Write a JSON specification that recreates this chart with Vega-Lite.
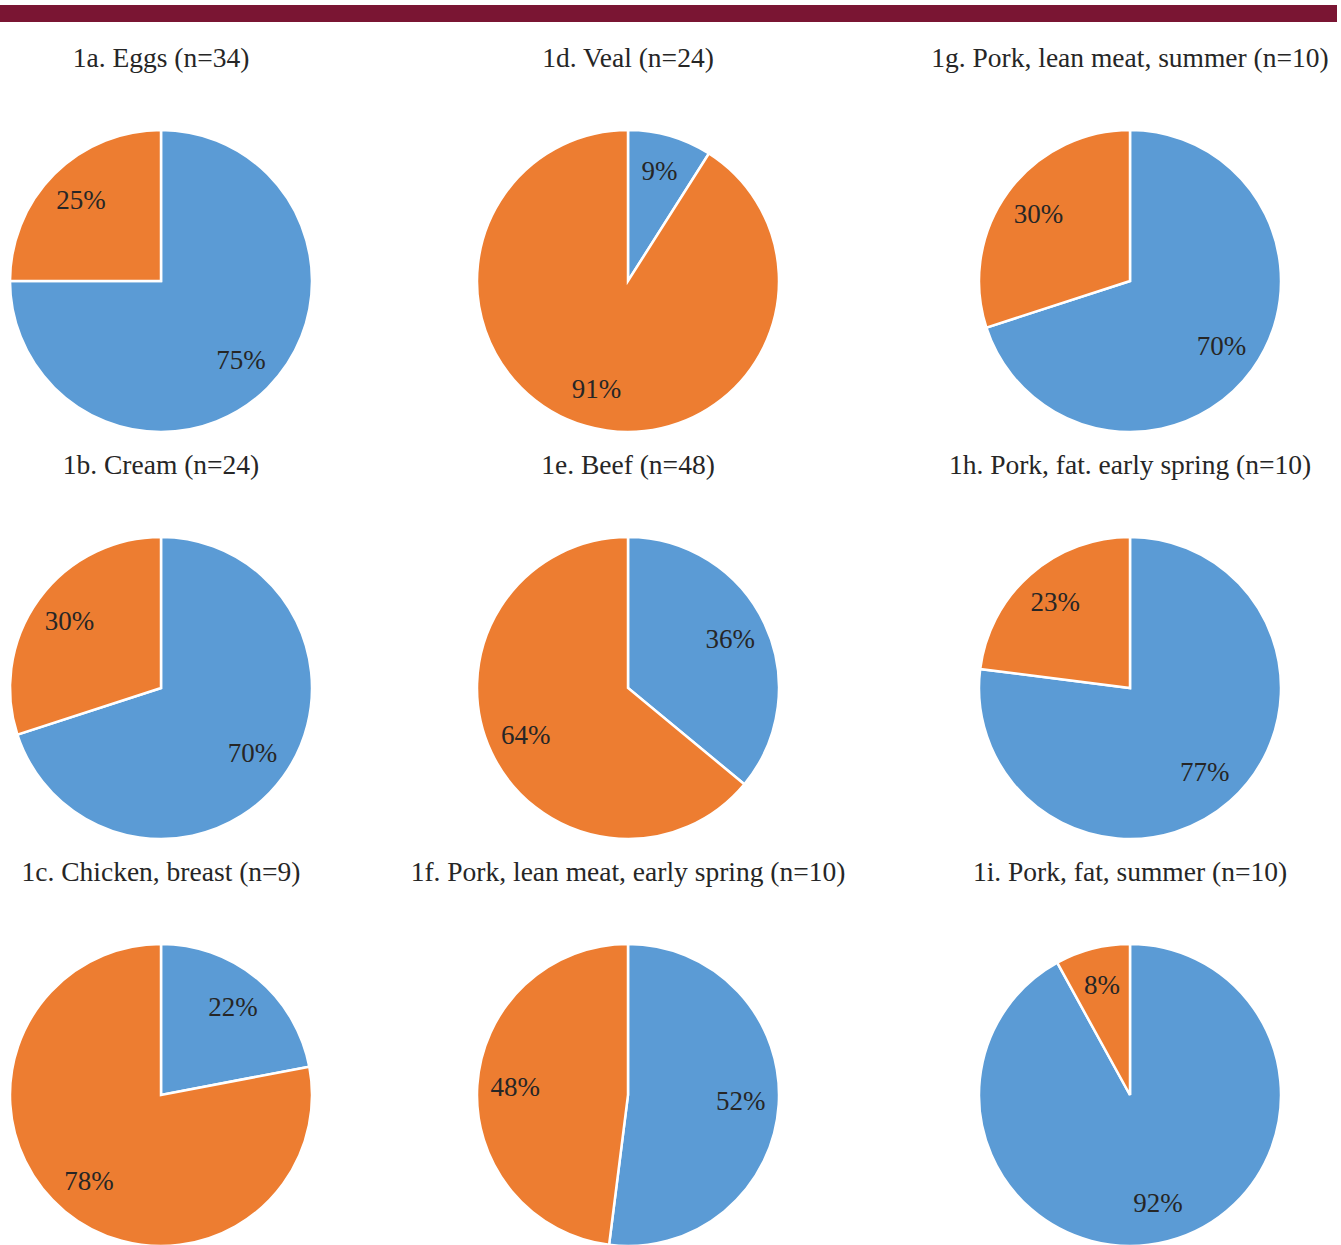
{
  "$schema": "https://vega.github.io/schema/vega-lite/v6.json",
  "padding": {"top": 5, "left": 0, "right": 0, "bottom": 0},
  "background": "white",
  "config": {
    "view": {"stroke": null},
    "title": {"font": "Liberation Serif", "fontSize": 27.5, "fontWeight": "normal", "color": "#262626", "offset": 53, "baseline": "alphabetic", "anchor": "middle"}
  },
  "datasets": {
    "pies": [
      {"chart": "1a", "part": "A", "share": 0.75}, {"chart": "1a", "part": "B", "share": 0.25},
      {"chart": "1b", "part": "A", "share": 0.70}, {"chart": "1b", "part": "B", "share": 0.30},
      {"chart": "1c", "part": "A", "share": 0.22}, {"chart": "1c", "part": "B", "share": 0.78},
      {"chart": "1d", "part": "A", "share": 0.09}, {"chart": "1d", "part": "B", "share": 0.91},
      {"chart": "1e", "part": "A", "share": 0.36}, {"chart": "1e", "part": "B", "share": 0.64},
      {"chart": "1f", "part": "A", "share": 0.52}, {"chart": "1f", "part": "B", "share": 0.48},
      {"chart": "1g", "part": "A", "share": 0.70}, {"chart": "1g", "part": "B", "share": 0.30},
      {"chart": "1h", "part": "A", "share": 0.77}, {"chart": "1h", "part": "B", "share": 0.23},
      {"chart": "1i", "part": "A", "share": 0.92}, {"chart": "1i", "part": "B", "share": 0.08}
    ],
    "bar": [{"start": 0, "end": 1}]
  },
  "bounds": "flush",
  "spacing": 108,
  "vconcat": [
    {
      "width": 1337, "height": 17,
      "data": {"name": "bar"},
      "mark": {"type": "rect", "color": "#7A1533"},
      "encoding": {
        "x": {"field": "start", "type": "quantitative", "scale": {"domain": [0, 1]}, "axis": null},
        "x2": {"field": "end"}
      }
    },
    {
      "columns": 3,
      "bounds": "flush",
      "spacing": {"row": 105, "column": 20},
      "concat": [
        {"width": 322, "height": 302, "title": "1a. Eggs (n=34)", "data": {"name": "pies"}, "transform": [{"filter": "datum.chart == '1a'"}],
         "encoding": {"theta": {"field": "share", "type": "quantitative", "stack": true}, "order": {"field": "part", "sort": "ascending"}},
         "layer": [
           {"mark": {"type": "arc", "stroke": "white", "strokeWidth": 2.5}, "encoding": {"color": {"field": "part", "type": "nominal", "scale": {"domain": ["A", "B"], "range": ["#5B9BD5", "#ED7D31"]}, "legend": null}}},
           {"mark": {"type": "text", "radius": 113, "font": "Liberation Serif", "fontSize": 27, "fill": "#262626"}, "encoding": {"detail": {"field": "part"}, "text": {"field": "share", "type": "quantitative", "format": ".0%"}}}
         ]},
        {"width": 572, "height": 302, "title": "1d. Veal (n=24)", "data": {"name": "pies"}, "transform": [{"filter": "datum.chart == '1d'"}],
         "encoding": {"theta": {"field": "share", "type": "quantitative", "stack": true}, "order": {"field": "part", "sort": "ascending"}},
         "layer": [
           {"mark": {"type": "arc", "stroke": "white", "strokeWidth": 2.5}, "encoding": {"color": {"field": "part", "type": "nominal", "scale": {"domain": ["A", "B"], "range": ["#5B9BD5", "#ED7D31"]}, "legend": null}}},
           {"mark": {"type": "text", "radius": 113, "font": "Liberation Serif", "fontSize": 27, "fill": "#262626"}, "encoding": {"detail": {"field": "part"}, "text": {"field": "share", "type": "quantitative", "format": ".0%"}}}
         ]},
        {"width": 392, "height": 302, "title": "1g. Pork, lean meat, summer (n=10)", "data": {"name": "pies"}, "transform": [{"filter": "datum.chart == '1g'"}],
         "encoding": {"theta": {"field": "share", "type": "quantitative", "stack": true}, "order": {"field": "part", "sort": "ascending"}},
         "layer": [
           {"mark": {"type": "arc", "stroke": "white", "strokeWidth": 2.5}, "encoding": {"color": {"field": "part", "type": "nominal", "scale": {"domain": ["A", "B"], "range": ["#5B9BD5", "#ED7D31"]}, "legend": null}}},
           {"mark": {"type": "text", "radius": 113, "font": "Liberation Serif", "fontSize": 27, "fill": "#262626"}, "encoding": {"detail": {"field": "part"}, "text": {"field": "share", "type": "quantitative", "format": ".0%"}}}
         ]},
        {"width": 322, "height": 302, "title": "1b. Cream (n=24)", "data": {"name": "pies"}, "transform": [{"filter": "datum.chart == '1b'"}],
         "encoding": {"theta": {"field": "share", "type": "quantitative", "stack": true}, "order": {"field": "part", "sort": "ascending"}},
         "layer": [
           {"mark": {"type": "arc", "stroke": "white", "strokeWidth": 2.5}, "encoding": {"color": {"field": "part", "type": "nominal", "scale": {"domain": ["A", "B"], "range": ["#5B9BD5", "#ED7D31"]}, "legend": null}}},
           {"mark": {"type": "text", "radius": 113, "font": "Liberation Serif", "fontSize": 27, "fill": "#262626"}, "encoding": {"detail": {"field": "part"}, "text": {"field": "share", "type": "quantitative", "format": ".0%"}}}
         ]},
        {"width": 572, "height": 302, "title": "1e. Beef (n=48)", "data": {"name": "pies"}, "transform": [{"filter": "datum.chart == '1e'"}],
         "encoding": {"theta": {"field": "share", "type": "quantitative", "stack": true}, "order": {"field": "part", "sort": "ascending"}},
         "layer": [
           {"mark": {"type": "arc", "stroke": "white", "strokeWidth": 2.5}, "encoding": {"color": {"field": "part", "type": "nominal", "scale": {"domain": ["A", "B"], "range": ["#5B9BD5", "#ED7D31"]}, "legend": null}}},
           {"mark": {"type": "text", "radius": 113, "font": "Liberation Serif", "fontSize": 27, "fill": "#262626"}, "encoding": {"detail": {"field": "part"}, "text": {"field": "share", "type": "quantitative", "format": ".0%"}}}
         ]},
        {"width": 392, "height": 302, "title": "1h. Pork, fat. early spring (n=10)", "data": {"name": "pies"}, "transform": [{"filter": "datum.chart == '1h'"}],
         "encoding": {"theta": {"field": "share", "type": "quantitative", "stack": true}, "order": {"field": "part", "sort": "ascending"}},
         "layer": [
           {"mark": {"type": "arc", "stroke": "white", "strokeWidth": 2.5}, "encoding": {"color": {"field": "part", "type": "nominal", "scale": {"domain": ["A", "B"], "range": ["#5B9BD5", "#ED7D31"]}, "legend": null}}},
           {"mark": {"type": "text", "radius": 113, "font": "Liberation Serif", "fontSize": 27, "fill": "#262626"}, "encoding": {"detail": {"field": "part"}, "text": {"field": "share", "type": "quantitative", "format": ".0%"}}}
         ]},
        {"width": 322, "height": 302, "title": "1c. Chicken, breast (n=9)", "data": {"name": "pies"}, "transform": [{"filter": "datum.chart == '1c'"}],
         "encoding": {"theta": {"field": "share", "type": "quantitative", "stack": true}, "order": {"field": "part", "sort": "ascending"}},
         "layer": [
           {"mark": {"type": "arc", "stroke": "white", "strokeWidth": 2.5}, "encoding": {"color": {"field": "part", "type": "nominal", "scale": {"domain": ["A", "B"], "range": ["#5B9BD5", "#ED7D31"]}, "legend": null}}},
           {"mark": {"type": "text", "radius": 113, "font": "Liberation Serif", "fontSize": 27, "fill": "#262626"}, "encoding": {"detail": {"field": "part"}, "text": {"field": "share", "type": "quantitative", "format": ".0%"}}}
         ]},
        {"width": 572, "height": 302, "title": "1f. Pork, lean meat, early spring (n=10)", "data": {"name": "pies"}, "transform": [{"filter": "datum.chart == '1f'"}],
         "encoding": {"theta": {"field": "share", "type": "quantitative", "stack": true}, "order": {"field": "part", "sort": "ascending"}},
         "layer": [
           {"mark": {"type": "arc", "stroke": "white", "strokeWidth": 2.5}, "encoding": {"color": {"field": "part", "type": "nominal", "scale": {"domain": ["A", "B"], "range": ["#5B9BD5", "#ED7D31"]}, "legend": null}}},
           {"mark": {"type": "text", "radius": 113, "font": "Liberation Serif", "fontSize": 27, "fill": "#262626"}, "encoding": {"detail": {"field": "part"}, "text": {"field": "share", "type": "quantitative", "format": ".0%"}}}
         ]},
        {"width": 392, "height": 302, "title": "1i. Pork, fat, summer (n=10)", "data": {"name": "pies"}, "transform": [{"filter": "datum.chart == '1i'"}],
         "encoding": {"theta": {"field": "share", "type": "quantitative", "stack": true}, "order": {"field": "part", "sort": "ascending"}},
         "layer": [
           {"mark": {"type": "arc", "stroke": "white", "strokeWidth": 2.5}, "encoding": {"color": {"field": "part", "type": "nominal", "scale": {"domain": ["A", "B"], "range": ["#5B9BD5", "#ED7D31"]}, "legend": null}}},
           {"mark": {"type": "text", "radius": 113, "font": "Liberation Serif", "fontSize": 27, "fill": "#262626"}, "encoding": {"detail": {"field": "part"}, "text": {"field": "share", "type": "quantitative", "format": ".0%"}}}
         ]}
      ]
    }
  ]
}
